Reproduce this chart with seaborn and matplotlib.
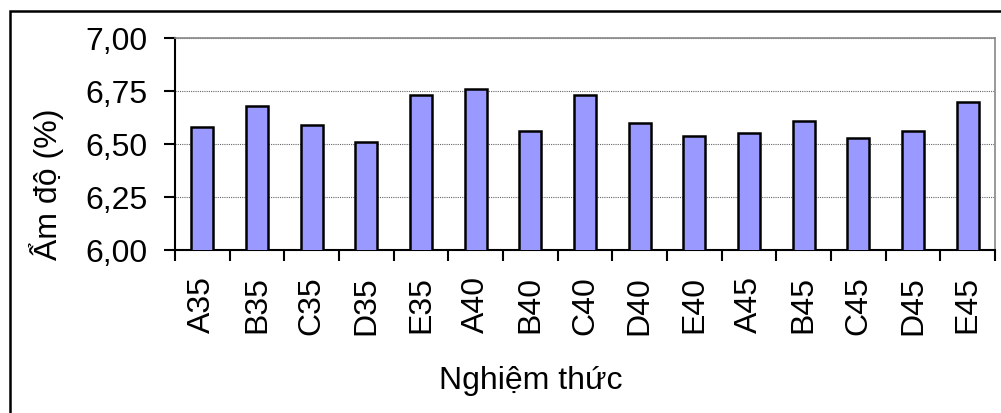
import matplotlib
matplotlib.use("Agg")
import matplotlib.pyplot as plt
import seaborn as sns
import pandas as pd
import numpy as np
from matplotlib.patches import Rectangle

categories = ["A35", "B35", "C35", "D35", "E35", "A40", "B40", "C40", "D40", "E40",
              "A45", "B45", "C45", "D45", "E45"]
values = [6.58, 6.68, 6.59, 6.51, 6.73, 6.76, 6.56, 6.73, 6.60, 6.54,
          6.55, 6.61, 6.53, 6.56, 6.70]
y_ticks = [6.00, 6.25, 6.50, 6.75, 7.00]
y_tick_labels = ["6,00", "6,25", "6,50", "6,75", "7,00"]
x_title = "Nghiệm thức"
y_title = "Ẩm độ (%)"

sns.set_style("white")
plt.rcParams['font.family'] = ['Liberation Sans', 'DejaVu Sans']
plt.rcParams['text.color'] = 'black'
plt.rcParams['xtick.color'] = 'black'
plt.rcParams['ytick.color'] = 'black'
plt.rcParams['axes.labelcolor'] = 'black'

FS = 23

W, H = 1001, 414
fig = plt.figure(figsize=(W / 100, H / 100), dpi=100)
L, R, T, B = 175, 995, 39, 251
ax = fig.add_axes([L / W, 1 - B / H, (R - L) / W, (B - T) / H])

df = pd.DataFrame({"cat": categories, "val": values})
sns.barplot(data=df, x="cat", y="val", ax=ax, color="#9999FF", saturation=1,
            width=0.4, edgecolor="black", linewidth=1.8, zorder=3)

ax.set_ylim(6.0, 7.0)
ax.set_xlim(-0.5, len(categories) - 0.5)
ax.set_yticks(y_ticks)
ax.set_yticklabels(y_tick_labels, fontsize=FS)
ax.yaxis.grid(True, linestyle=(0, (1, 1)), color="#666666", linewidth=0.8, zorder=0)

# major ticks at category boundaries, labels at centres
ax.set_xticks(np.arange(-0.5, len(categories), 1.0))
ax.set_xticklabels([])
ax.set_xticks(np.arange(len(categories)), minor=True)
ax.set_xticklabels(categories, minor=True, rotation=90, fontsize=FS)
ax.tick_params(axis="x", which="major", direction="out", length=8, width=1.5,
               color="black", bottom=True)
ax.tick_params(axis="x", which="minor", length=0, pad=18, bottom=True)
ax.tick_params(axis="y", direction="out", length=8, width=1.5, color="black",
               pad=12, left=True)
ax.set_xlabel("")
ax.set_ylabel("")

for s in ["left", "bottom"]:
    ax.spines[s].set_color("black")
    ax.spines[s].set_linewidth(1.5)
for s in ["top", "right"]:
    ax.spines[s].set_visible(True)
    ax.spines[s].set_color("#888888")
    ax.spines[s].set_linewidth(1.2)

fig.text(531 / W, 1 - 381 / H, x_title, fontsize=FS, ha="center", va="center",
         color="black")
fig.text(46 / W, 1 - 184 / H, y_title, fontsize=FS, ha="center", va="center",
         rotation=90, color="black")

# outer chart-area border (top and left visible)
fig.patches.append(Rectangle((10 / W, -0.1), 1.2, 1 - 12 / H + 0.1,
                             transform=fig.transFigure, fill=False,
                             edgecolor="black", linewidth=1.8))

fig.savefig("out.png", dpi=100)
